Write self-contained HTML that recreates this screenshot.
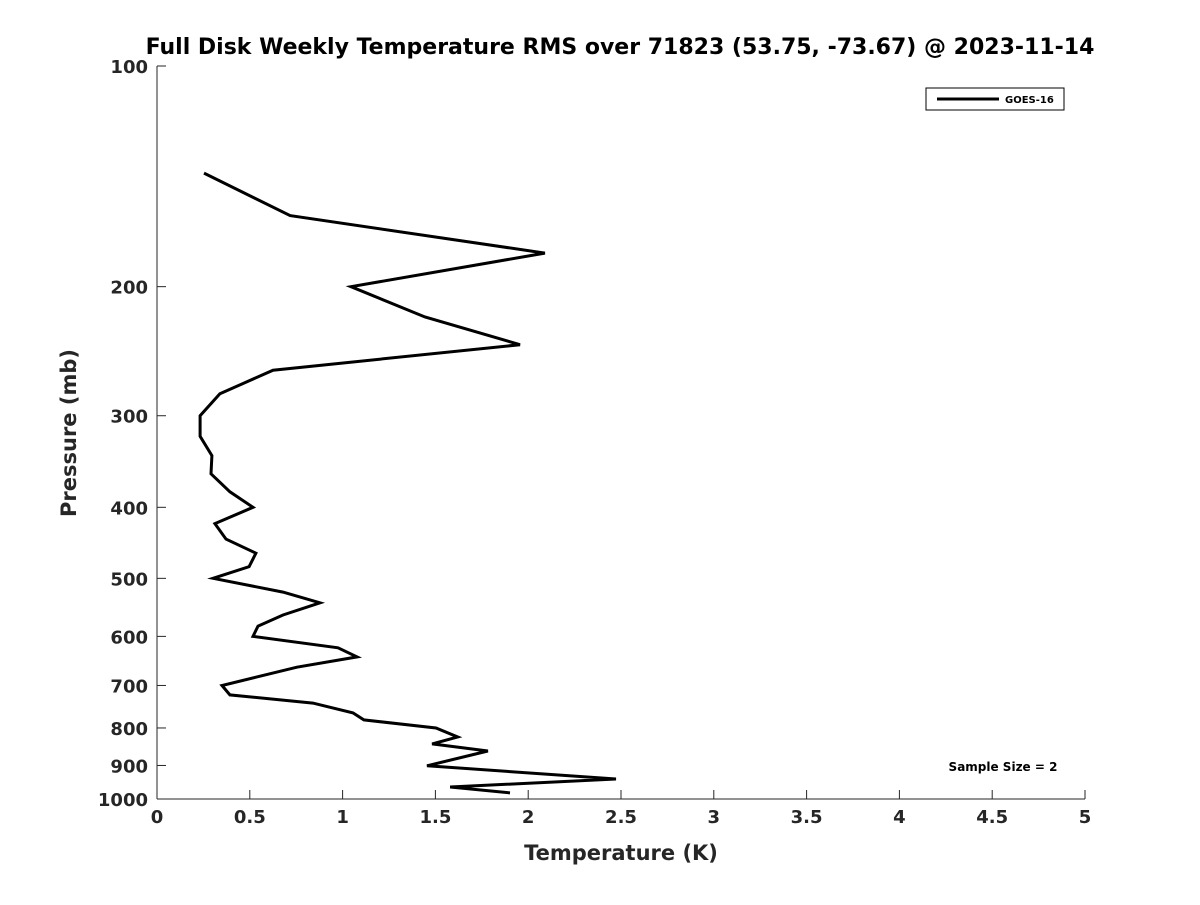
<!DOCTYPE html>
<html><head><meta charset="utf-8"><style>
body{margin:0;background:#fff;}
svg text{font-family:"DejaVu Sans","Liberation Sans",sans-serif;font-weight:bold;fill:#262626;}
</style></head><body>
<svg width="1200" height="900" xmlns="http://www.w3.org/2000/svg">
<rect width="1200" height="900" fill="#fff"/>
<text x="620" y="54" font-size="22" text-anchor="middle" fill="#000" style="fill:#000">Full Disk Weekly Temperature RMS over 71823 (53.75, -73.67) @ 2023-11-14</text>
<g id="axes"></g>
<path id="line" fill="none" stroke="#000" stroke-width="3" stroke-linejoin="miter"/>
<g>
<rect x="926" y="88" width="138" height="22" fill="#fff" stroke="#000" stroke-width="1"/>
<line x1="937" y1="99" x2="999" y2="99" stroke="#000" stroke-width="3"/>
<text x="1005" y="103" font-size="10" style="fill:#000">GOES-16</text>
</g>
<text x="1003" y="771" font-size="12" text-anchor="middle" style="fill:#000">Sample Size = 2</text>
<text x="621" y="860" font-size="21" text-anchor="middle">Temperature (K)</text>
<text transform="translate(76,433) rotate(-90)" font-size="21" text-anchor="middle">Pressure (mb)</text>
</svg>
<script>
const temps=[0.253,0.717,2.09,1.045,1.444,1.956,0.625,0.339,0.232,0.232,0.296,0.291,0.393,0.517,0.312,0.372,0.533,0.496,0.302,0.679,0.878,0.679,0.544,0.517,0.975,1.078,0.754,0.533,0.35,0.393,0.84,1.056,1.115,1.503,1.62,1.482,1.783,1.455,2.473,1.579,1.902];
const pressures=[140,160,180,200,220,240,260,280,300,320,340,360,381,400,421,442,462,482,500,522,540,561,581,600,622,640,661,682,700,721,740,763,780,800,823,841,860,901,939,963,981];
const xTicks=[0,0.5,1,1.5,2,2.5,3,3.5,4,4.5,5];
const xTickLabels=["0","0.5","1","1.5","2","2.5","3","3.5","4","4.5","5"];
const yTicks=[100,200,300,400,500,600,700,800,900,1000];
const L=157,R=1085,T=66,B=799;
const xs=v=>L+(v-0)/(5-0)*(R-L);
const ys=p=>T+(Math.log10(p)-2)*(B-T);
const NS="http://www.w3.org/2000/svg";
const ax=document.getElementById('axes');
function mk(tag,attrs){const e=document.createElementNS(NS,tag);for(const k in attrs)e.setAttribute(k,attrs[k]);return e;}
const xl=mk('line',{x1:L,y1:B,x2:R,y2:B,stroke:'#262626','stroke-width':1});


ax.appendChild(xl);
const yl=mk('line',{x1:L,y1:T,x2:L,y2:B,stroke:'#262626','stroke-width':1});


ax.appendChild(yl);
xTicks.forEach((v,i)=>{const x=xs(v);
ax.appendChild(mk('line',{x1:x,y1:B,x2:x,y2:B-9,stroke:'#262626'}));
const t=mk('text',{x:x,y:B+24,'font-size':18,'text-anchor':'middle'});t.textContent=xTickLabels[i];


ax.appendChild(t);});
yTicks.forEach(p=>{const y=ys(p);
ax.appendChild(mk('line',{x1:L,y1:y,x2:L+9,y2:y,stroke:'#262626'}));
const t=mk('text',{x:L-9,y:y+7,'font-size':18,'text-anchor':'end'});t.textContent=String(p);


ax.appendChild(t);});
document.getElementById('line').setAttribute('d',temps.map((v,i)=>(i?'L':'M')+xs(v).toFixed(1)+','+ys(pressures[i]).toFixed(1)).join(''));
</script>
</body></html>
